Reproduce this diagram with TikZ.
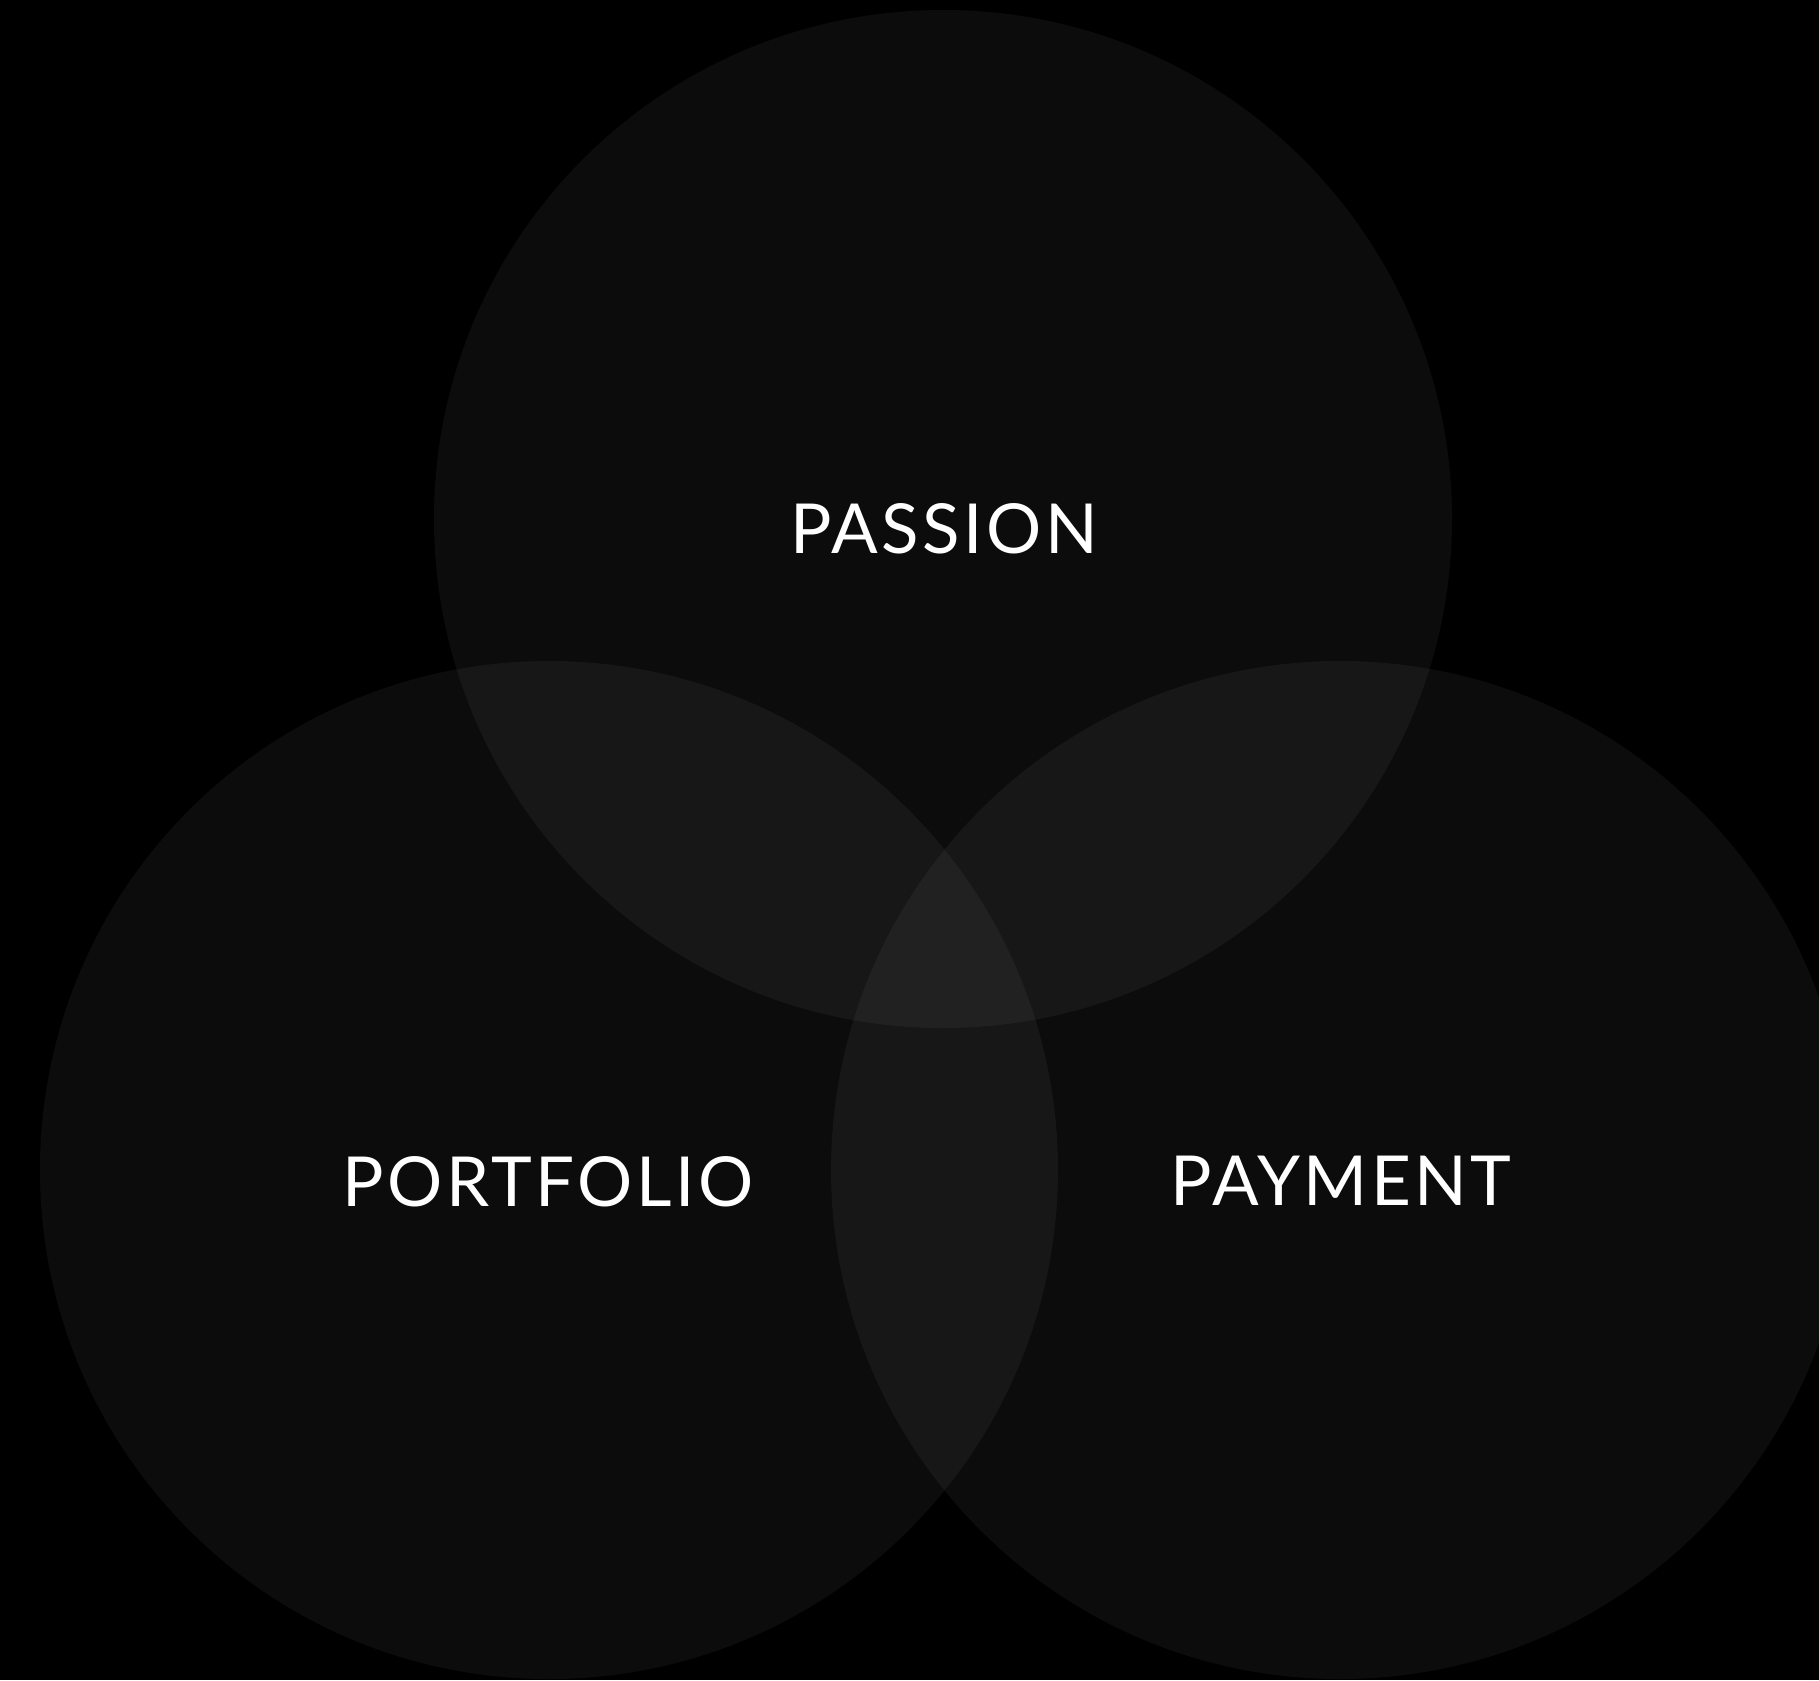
\documentclass[tikz,border=0pt]{standalone}
\usepackage{fontspec}
\newfontfamily\labelfont{Lato}[LetterSpace=5]
\begin{document}
\begin{tikzpicture}[x=1pt,y=-1pt,
  disc/.style={circle, minimum size=1018pt, inner sep=0pt, fill=white, fill opacity=0.047, text opacity=1},
  word/.style={text=white, font=\labelfont\fontsize{69}{82}\selectfont, inner sep=0pt}]
  % canvas
  \fill[black] (0,0) rectangle (1819,1680);
  \useasboundingbox (0,0) rectangle (1819,1680);
  % three overlapping discs
  \node[disc] (top)   at (943,519)   {};
  \node[disc] (left)  at (549,1170)  {};
  \node[disc] (right) at (1340,1170) {};
  % labels
  \node[word] (passion)   at (944,529)  {PASSION};
  \node[word] (portfolio) at (548,1182) {PORTFOLIO};
  \node[word] (payment)   at (1341,1181) {PAYMENT};
\end{tikzpicture}
\end{document}
